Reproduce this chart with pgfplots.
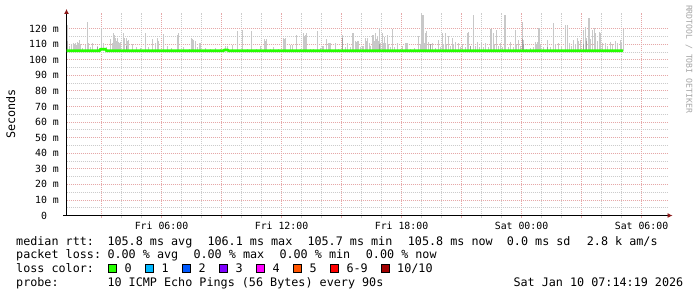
\documentclass[border=0pt]{standalone}
\usepackage{pgfplots}
\pgfplotsset{compat=1.18}
\usepackage{pgfplotstable}
\usepackage{fontspec}
\setmainfont{DejaVu Sans Mono}
\usetikzlibrary{arrows.meta}
\definecolor{lgreen}{HTML}{26FF00}
\definecolor{lone}{HTML}{00B8FF}
\definecolor{ltwo}{HTML}{0059FF}
\definecolor{lthree}{HTML}{7E00FF}
\definecolor{lfour}{HTML}{FF00FF}
\definecolor{lfive}{HTML}{FF5500}
\definecolor{lsix}{HTML}{FF0000}
\definecolor{lten}{HTML}{A10000}
\definecolor{smoke}{HTML}{C8C8C8}
\definecolor{smokedark}{HTML}{A0A0A0}
\definecolor{mgrid}{HTML}{E6A8A8}
\definecolor{mingrid}{HTML}{CCCCCC}
\definecolor{arrowc}{HTML}{8B1A1A}
\newcommand{\tf}{\fontsize{11.75bp}{13bp}\selectfont}
\newcommand{\lf}{\fontsize{9.85bp}{11bp}\selectfont}
\newcommand{\wf}{\fontsize{8.15bp}{9bp}\selectfont}

% smoke: time in hours since Fri 00:00, top of the ping spread in ms
\pgfplotstableread{
t hi
1.275 122.3
1.375 109
1.475 110
1.575 110.7
1.625 110
1.675 110.7
1.725 109.5
1.775 111.6
1.825 111
1.875 112.6
1.925 110
2.025 107.5
2.175 109.3
2.275 124.4
2.325 110.7
2.425 108
2.525 110.7
2.775 108.5
2.975 120.1
3.075 110.7
3.225 108
3.425 113.1
3.525 111
3.575 116.9
3.625 116
3.675 113.7
3.725 112
3.775 113.7
3.825 111.6
3.875 111
3.925 111.6
4.075 117
4.125 114
4.225 113.7
4.275 112
4.325 112.6
4.525 109.9
4.725 108
4.925 107.5
5.175 117
5.325 108
5.525 113
5.675 110.7
5.775 113.7
5.825 112
6.075 116.6
6.275 108.5
6.475 107.5
6.775 115.8
6.825 116.9
7.075 108
7.375 107
7.475 113.7
7.525 113
7.575 112.6
7.675 112.2
7.775 108
7.875 110.7
7.925 110.7
8.175 107.5
8.425 107
8.675 107.5
8.925 106.8
9.175 108.5
9.275 108.5
9.525 109.5
9.775 118.6
10.025 119.1
10.275 107
10.475 118.4
10.725 107
10.925 108.5
11.125 113.1
11.175 112
11.225 113.1
11.425 107
11.575 108
11.825 106.8
12.075 113.7
12.125 113
12.175 113.7
12.425 109.5
12.525 109.5
12.725 115.8
12.925 107
13.075 117.4
13.125 115
13.175 116
13.225 117.4
13.425 107
13.575 107
13.775 118.6
13.925 107.5
14.025 108.5
14.075 108.5
14.225 113.1
14.325 111
14.375 110.7
14.425 111
14.675 110.7
14.825 107
15.025 115.8
15.175 108
15.275 110.7
15.425 108
15.525 116.9
15.575 116.9
15.675 112
15.725 111.6
15.775 112
15.825 112
15.925 108
16.025 109
16.075 109
16.175 113.7
16.225 112
16.275 113.7
16.375 110.7
16.425 109
16.525 115.8
16.575 115.8
16.625 112
16.675 117.4
16.725 113
16.775 114.6
16.825 112
16.875 120.1
16.925 111
17.025 116.9
17.075 111
17.125 114.6
17.175 111
17.275 115.8
17.325 110
17.425 108
17.525 119.5
17.625 108
17.775 110.7
17.925 107
18.025 108.5
18.175 110.7
18.225 110.7
18.275 110.7
18.425 107
18.625 107.5
18.825 115.2
18.925 110
18.975 128.7
19.025 128.7
19.075 128.7
19.125 111
19.175 117.4
19.225 118.3
19.325 111.6
19.425 108
19.525 110.7
19.675 107.5
19.825 112.6
19.925 108
20.025 116.9
20.075 110
20.175 117.4
20.225 110
20.325 115
20.425 109
20.525 113.7
20.575 110
20.675 111.6
20.825 110.7
20.925 108
21.025 109.9
21.175 108
21.275 117.4
21.325 118
21.425 108.5
21.575 128.7
21.675 109
21.775 111.6
21.875 108
21.975 111.6
22.075 108
22.175 110.7
22.325 108
22.425 119.5
22.475 120
22.575 116.9
22.625 110
22.725 119
22.825 109
22.925 110.7
23.025 108
23.125 128.7
23.175 128.7
23.325 108
23.425 111.6
23.575 108
23.675 119
23.725 110
23.825 112.6
23.925 109
24.025 124.4
24.075 112.6
24.225 107
24.425 107.5
24.575 108
24.675 111.6
24.725 110
24.775 111.6
24.825 120.1
24.875 120.6
24.925 110
25.075 108
25.275 112.6
25.425 108
25.575 123.4
25.675 110
25.825 110.7
25.975 108
26.175 122.3
26.275 122
26.375 110.7
26.475 109
26.575 112.6
26.675 110
26.775 113.7
26.825 112
26.925 112.6
27.075 119
27.175 121.2
27.225 114
27.325 126.5
27.375 126.9
27.425 113
27.525 119
27.625 120.6
27.675 117.4
27.775 112
27.875 118
27.925 117.4
28.025 111
28.175 110.7
28.275 109
28.425 111.6
28.525 110
28.675 112.2
28.775 111
28.925 112.6
28.975 111
29.075 120
}\smokedata

% darker core of the smoke
\pgfplotstableread{
t hi
1.275 112
2.775 108
4.225 109
15.025 114
16.875 110
19.425 110
21.425 109
24.025 113
24.075 110
25.275 108
27.075 110
27.225 112
}\smokecore

% median rtt
\pgfplotstableread{
t med
1.25 105.8
2.90 105.8
2.95 106.7
3.20 106.7
3.25 105.8
9.10 105.8
9.15 106.3
9.30 106.3
9.35 105.8
29.075 105.8
}\mediandata

\begin{document}
\begin{tikzpicture}[x=1bp,y=1bp]
\fill[white] (0,0) rectangle (697,297);
\begin{axis}[
  at={(66.5bp,81.5bp)}, anchor=south west,
  scale only axis, width=601.5bp, height=202.5bp,
  xmin=1.25, xmax=31.325, ymin=0, ymax=130,
  axis x line*=bottom, axis y line*=left,
  axis line style={black, line width=0.8bp},
  x axis line style={-{Latex[length=5bp,width=5bp,color=arrowc]}, shorten >=-4.5bp, shorten <=-3.5bp},
  y axis line style={-{Latex[length=5bp,width=5bp,color=arrowc]}, shorten >=-4bp},
  xtick={3,6,...,30},
  xticklabels={,Fri 06:00,,Fri 12:00,,Fri 18:00,,Sat 00:00,,Sat 06:00},
  minor x tick num=2,
  ytick={0,10,...,120},
  yticklabels={0\hphantom{~m},10 m,20 m,30 m,40 m,50 m,60 m,70 m,80 m,90 m,100 m,110 m,120 m},
  minor y tick num=1,
  grid=both,
  major grid style={mgrid, line width=0.8bp, dash pattern=on 1bp off 1bp},
  minor grid style={mingrid, line width=0.8bp, dash pattern=on 1bp off 1bp},
  tick align=outside,
  major tick length=2.5bp, minor tick length=2.5bp,
  major x tick style={mgrid, line width=0.8bp},
  minor x tick style={mingrid, line width=0.8bp},
  major y tick style={draw=none},
  minor y tick style={draw=none},
  tick label style={font=\lf, text=black},
  xticklabel style={anchor=north, inner sep=0pt, yshift=-3.5bp},
  yticklabel style={anchor=east, inner sep=0pt, xshift=-5bp},
  clip=true,
]
\addplot[draw=none, mark=none, forget plot,
  error bars/.cd, y dir=plus, y explicit, error mark=none,
  error bar style={draw=smoke, line width=1.0bp, line cap=butt, solid}]
  table[x=t, y expr=105.3, y error expr=\thisrow{hi}-105.3] {\smokedata};
\addplot[draw=none, mark=none, forget plot,
  error bars/.cd, y dir=plus, y explicit, error mark=none,
  error bar style={draw=smokedark, line width=1.0bp, line cap=butt, solid}]
  table[x=t, y expr=105.3, y error expr=\thisrow{hi}-105.3] {\smokecore};
\addplot[lgreen, line width=2.7bp, mark=none] table[x=t, y=med] {\mediandata};
\end{axis}
% y axis title
\node[rotate=90, font=\tf, inner sep=0pt] at (10.7,183) {Seconds};
% watermark
\node[rotate=-90, font=\wf, text=black!35, inner sep=0pt] at (689,238) {RRDTOOL / TOBI OETIKER};
% legend rows
\begin{scope}[every node/.style={font=\tf, anchor=base west, inner sep=0pt}]
\node at (16,52) {median rtt:};
\node at (107.3,52) {105.8 ms avg};
\node at (207.3,52) {106.1 ms max};
\node at (307.3,52) {105.7 ms min};
\node at (407.7,52) {105.8 ms now};
\node at (506.7,52) {0.0 ms sd};
\node at (586.7,52) {2.8 k am/s};
\node at (16,38.3) {packet loss:};
\node at (107.3,38.3) {0.00 \% avg};
\node at (193.3,38.3) {0.00 \% max};
\node at (279.3,38.3) {0.00 \% min};
\node at (365.7,38.3) {0.00 \% now};
\node at (16,24.7) {loss color:};
\node at (124.3,24.7) {0};
\node at (161.3,24.7) {1};
\node at (198.3,24.7) {2};
\node at (235.3,24.7) {3};
\node at (272.3,24.7) {4};
\node at (309.3,24.7) {5};
\node at (346.3,24.7) {6-9};
\node at (397,24.7) {10/10};
\node at (16,11) {probe:};
\node at (107.3,11) {10 ICMP Echo Pings (56 Bytes) every 90s};
\node at (513.3,11) {Sat Jan 10 07:14:19 2026};
\end{scope}
\begin{scope}[line width=0.6bp]
\filldraw[fill=lgreen, draw=black] (108,24.3) rectangle (116,32.3);
\filldraw[fill=lone, draw=black] (145,24.3) rectangle (153,32.3);
\filldraw[fill=ltwo, draw=black] (182,24.3) rectangle (190,32.3);
\filldraw[fill=lthree, draw=black] (219,24.3) rectangle (227,32.3);
\filldraw[fill=lfour, draw=black] (256,24.3) rectangle (264,32.3);
\filldraw[fill=lfive, draw=black] (293,24.3) rectangle (301,32.3);
\filldraw[fill=lsix, draw=black] (330,24.3) rectangle (338,32.3);
\filldraw[fill=lten, draw=black] (381,24.3) rectangle (389,32.3);
\end{scope}
\end{tikzpicture}
\end{document}
